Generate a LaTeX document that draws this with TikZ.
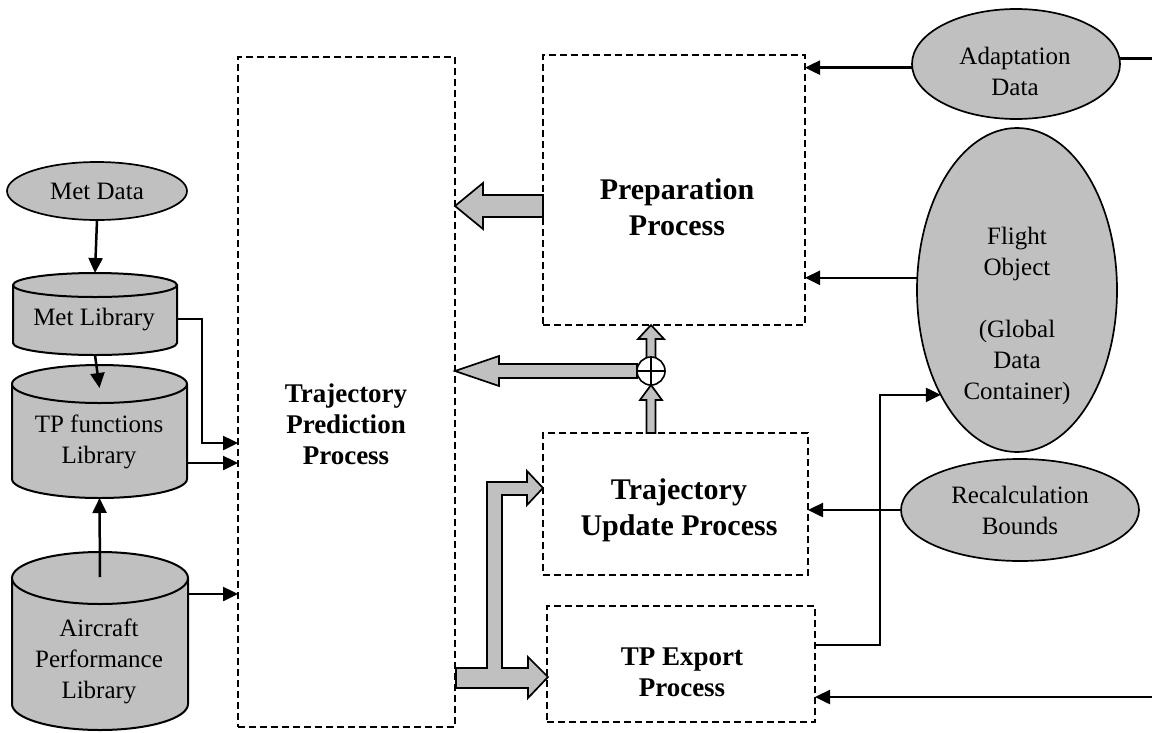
\documentclass[tikz,border=0pt]{standalone}
\usepackage{fontspec}
\setmainfont{Liberation Serif}
\usetikzlibrary{arrows.meta,calc,shapes.geometric}
\definecolor{fillgray}{RGB}{192,192,192}
\newcommand{\dbcyl}[6]{%
  \pgfmathsetmacro\cylcx{(#2+#3)/2}%
  \pgfmathsetmacro\cylrx{(#3-#2)/2}%
  \pgfmathsetmacro\cylcy{(#4+#5)/2}%
  \pgfmathsetmacro\cylw{#3-#2}%
  \pgfmathsetmacro\cylh{#5-#4}%
  \fill[fillgray] (#2,#4+#6) -- (#2,#5-#6) arc[start angle=180,end angle=0,x radius=\cylrx,y radius=#6] -- (#3,#4+#6) -- cycle;
  \draw[cylline] (#2,#4+#6) -- (#2,#5-#6) arc[start angle=180,end angle=0,x radius=\cylrx,y radius=#6] -- (#3,#4+#6);
  \draw[cylline,fill=fillgray] (\cylcx,#4+#6) ellipse[x radius=\cylrx,y radius=#6];
  \node[inner sep=0pt,outer sep=0pt,minimum width=\cylw pt,minimum height=\cylh pt] (#1) at (\cylcx,\cylcy) {};
}
\begin{document}
\begin{tikzpicture}[x=1pt,y=-1pt,
  box/.style={draw, rectangle, dash pattern=on 7pt off 4pt, line width=1.9pt, inner sep=0pt, outer sep=0pt},
  ell/.style={ellipse, draw, fill=fillgray, line width=1.7pt, inner sep=0pt, outer sep=0pt, align=center, font=\fontsize{25}{31}\selectfont},
  cylline/.style={line width=2pt},
  txt/.style={align=center, inner sep=0pt, font=\fontsize{25}{31}\selectfont},
  bigbold/.style={align=center, inner sep=0pt, font=\fontsize{30}{36}\selectfont\bfseries},
  midbold/.style={align=center, inner sep=0pt, font=\fontsize{27}{31}\selectfont\bfseries},
  arr/.style={line width=2.5pt, -{Triangle[length=15pt,width=14pt]}},
  ln/.style={line width=2.5pt},
  fat/.style={draw, fill=fillgray, line width=1.7pt, line join=miter}]
\useasboundingbox (0,0) rectangle (1152,732);
\fill[white] (0,0) rectangle (1152,732);

% process boxes
\node[box, minimum width=217pt, minimum height=670pt] (tpp) at (346.5,392) {};
\node[box, minimum width=262pt, minimum height=270pt] (prep) at (674,190) {};
\node[box, minimum width=265pt, minimum height=142pt] (upd) at (675.5,504) {};
\node[box, minimum width=268pt, minimum height=116pt] (exp) at (681,664) {};

\node[midbold] (tpptxt) at (346,424) {Trajectory\\Prediction\\Process};
\node[bigbold] (preptxt) at (677,207) {Preparation\\Process};
\node[bigbold] (updtxt) at (679,510) {Trajectory\\Update Process};
\node[midbold] (exptxt) at (682,672) {TP Export\\Process};

% data stores (left)
\node[ell, minimum width=180pt, minimum height=58pt] (metdata) at (97,191) {Met Data};
\dbcyl{metlib}{13}{177}{273}{355}{12}
\node[txt] (metlibtxt) at (94,320) {Met Library};
\dbcyl{tpf}{12}{187}{365}{498}{19}
\node[txt] (tpftxt) at (99,442) {TP functions\\Library};
\dbcyl{acp}{12}{188}{552}{730}{26}
\node[txt] (acptxt) at (99,661) {Aircraft\\Performance\\Library};

% data (right)
\node[ell, minimum width=208pt, minimum height=110pt] (adapt) at (1016,64) {};
\node[txt] (adapttxt) at (1015,71) {Adaptation\\Data};
\node[ell, minimum width=200pt, minimum height=324pt] (flight) at (1017,290) {};
\node[txt] (flighttxt) at (1017,316) {Flight\\Object\\[31pt](Global\\Data\\Container)};
\node[ell, minimum width=238pt, minimum height=102pt] (recalc) at (1020,510) {Recalculation\\Bounds};

\coordinate (edgeR) at (1152,0);

% left connectors
\draw[arr] (metdata.south) -- (metlib.north);
\draw[arr] (metlib.south) -- ($(tpf.north)+(0,23)$);
\coordinate (a3) at ($(metlib.east)+(0,5)$);
\draw[arr] (a3) -| ($(tpp.west)+(-36,51)$) -- ($(tpp.west)+(0,51)$);
\coordinate (a4) at ($(tpf.east)+(0,31.5)$);
\draw[arr] (a4) -- (a4 -| tpp.west);
\draw[arr] ($(acp.north)+(0,25)$) -- (tpf.south);
\coordinate (a6) at ($(acp.east)+(0,-47)$);
\draw[arr] (a6) -- (a6 -| tpp.west);

% right connectors
\draw[arr] (adapt.182) -- (adapt.182 -| prep.east);
\draw[ln] (adapt.3) -- (adapt.3 -| edgeR);
\draw[arr] (flight.173) -- (flight.173 -| prep.east);
\draw[arr] (recalc.west) -- (recalc.west -| upd.east);
\coordinate (a11) at ($(exp.east)+(0,-19)$);
\coordinate (fl) at (flight.234);
\draw[arr] (a11) -- ++(65,0) |- (fl);
\coordinate (a12) at ($(exp.east)+(0,33)$);
\draw[arr] (a12 -| edgeR) -- (a12);

% fat arrows
\draw[fat] (543,195) -- (483,195) -- (483,183) -- (455,206) -- (483,229) -- (483,217) -- (543,217) -- cycle;
\draw[fat] (637,364) -- (499,364) -- (499,356) -- (455,371) -- (499,386) -- (499,378) -- (637,378) -- cycle;
\draw[fat] (646.5,358) -- (646.5,339) -- (638,339) -- (651,325) -- (664,339) -- (655.5,339) -- (655.5,358) -- cycle;
\draw[fat] (646.5,433) -- (646.5,400) -- (640,400) -- (651,385) -- (662,400) -- (655.5,400) -- (655.5,433) -- cycle;
\draw[fat] (456,668) -- (487,668) -- (487,482) -- (527,482) -- (527,471) -- (543,488) -- (527,505) -- (527,495) -- (502,495) -- (502,668) -- (528,668) -- (528,657) -- (548,677) -- (528,698) -- (528,688) -- (456,688) -- cycle;

% summing junction
\node[circle, draw, fill=white, line width=1.6pt, minimum size=28pt, inner sep=0pt] (sum) at (651,371) {};
\draw[line width=1.6pt] (sum.north) -- (sum.south) (sum.west) -- (sum.east);
\end{tikzpicture}
\end{document}
